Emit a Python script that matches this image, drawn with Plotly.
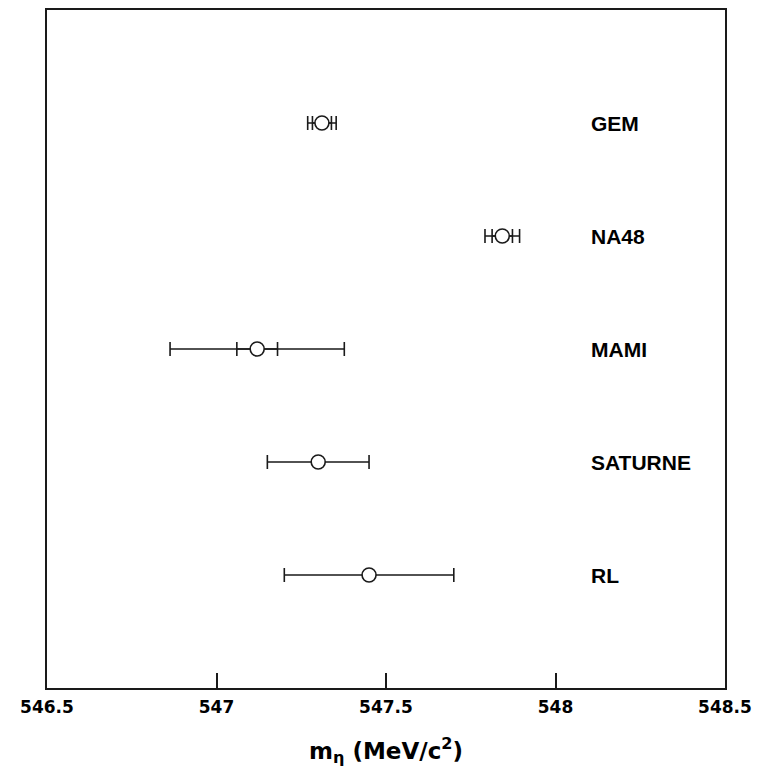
import plotly.graph_objects as go

experiments = ["GEM", "NA48", "MAMI", "SATURNE", "RL"]
y_pos = [5, 4, 3, 2, 1]
mass = [547.311, 547.843, 547.12, 547.30, 547.45]
err_total = [0.042, 0.051, 0.257, 0.15, 0.25]
err_stat = [0.028, 0.030, 0.06, None, None]

x_ticks = [546.5, 547, 547.5, 548, 548.5]
x_ticklabels = ["546.5", "547", "547.5", "548", "548.5"]

INK = "#1a1a1a"

fig = go.Figure()

# inner (statistical) error bars
fig.add_trace(go.Scatter(
    x=[m for m, e in zip(mass, err_stat) if e is not None],
    y=[y for y, e in zip(y_pos, err_stat) if e is not None],
    mode="markers",
    marker=dict(size=1, color="rgba(0,0,0,0)"),
    error_x=dict(type="data", array=[e for e in err_stat if e is not None],
                 color=INK, thickness=1.6, width=7),
    showlegend=False, hoverinfo="skip",
))

# outer (total) error bars with markers
fig.add_trace(go.Scatter(
    x=mass, y=y_pos, mode="markers",
    marker=dict(symbol="circle", size=14, color="white",
                line=dict(color=INK, width=1.6)),
    error_x=dict(type="data", array=err_total, color=INK,
                 thickness=1.6, width=7),
    showlegend=False,
))

for name, y in zip(experiments, y_pos):
    fig.add_annotation(x=548.10, y=y, text=name, showarrow=False,
                       xanchor="left", yanchor="middle",
                       font=dict(family="Liberation Sans", size=21,
                                 color="black", weight="bold"))

# axis title as annotation placed below tick labels
fig.add_annotation(x=0.5, y=-0.0925, xref="paper", yref="paper",
                   text="m<sub>η</sub> (MeV/c<sup>2</sup>)", showarrow=False,
                   xanchor="center", yanchor="middle",
                   font=dict(family="DejaVu Sans", size=23, color="black",
                             weight="bold"))

fig.update_xaxes(range=[546.5, 548.5], tickvals=x_ticks, ticktext=x_ticklabels,
                 ticks="inside", ticklen=15, tickwidth=1.5, tickcolor=INK,
                 showline=True, linecolor=INK, linewidth=2, mirror=True,
                 showgrid=False, zeroline=False, ticklabelstandoff=3,
                 tickfont=dict(family="DejaVu Sans", size=17, color="black",
                               weight="bold"))
fig.update_yaxes(range=[0, 6.0], showticklabels=False, ticks="",
                 showline=True, linecolor=INK, linewidth=2, mirror=True,
                 showgrid=False, zeroline=False)

# the page body adds an 8px margin, so the figure is sized to fit inside it
fig.update_layout(width=755, height=767,
                  margin=dict(l=39, r=38, t=0, b=87),
                  plot_bgcolor="white", paper_bgcolor="white")

fig.write_html("out.html")
